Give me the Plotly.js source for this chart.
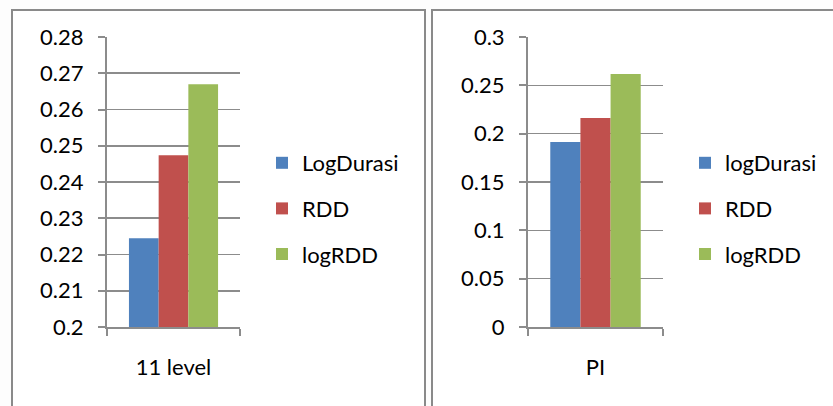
<!DOCTYPE html>
<html>
<head>
<meta charset="utf-8">
<script src="https://cdn.plot.ly/plotly-3.0.1.min.js"></script>
<style>html,body{margin:0;padding:0;background:#fff;}#chart{width:833px;height:406px;}</style>
</head>
<body>
<div id="chart"></div>
<script>
// ---- data ----
const leftCategories = ["11 level"];
const rightCategories = ["PI"];
const leftSeriesNames = ["LogDurasi", "RDD", "logRDD"];
const rightSeriesNames = ["logDurasi", "RDD", "logRDD"];
const leftValues = [0.2245, 0.2474, 0.2670];
const rightValues = [0.1915, 0.2162, 0.2617];
const leftTickVals = [0.2, 0.21, 0.22, 0.23, 0.24, 0.25, 0.26, 0.27, 0.28];
const leftTickText = ["0.2", "0.21", "0.22", "0.23", "0.24", "0.25", "0.26", "0.27", "0.28"];
const rightTickVals = [0, 0.05, 0.1, 0.15, 0.2, 0.25, 0.3];
const rightTickText = ["0", "0.05", "0.1", "0.15", "0.2", "0.25", "0.3"];
const seriesColors = ["#4F81BD", "#C0504D", "#9BBB59"];

const W = 833, H = 406;
const px = v => v / W;
const py = v => 1 - v / H;

const traces = [];
leftSeriesNames.forEach((n, i) => {
  traces.push({type: "bar", name: n, x: leftCategories, y: [leftValues[i]],
    marker: {color: seriesColors[i]}, xaxis: "x", yaxis: "y",
    legend: "legend", legendgroup: "L" + i, hoverinfo: "skip"});
});
rightSeriesNames.forEach((n, i) => {
  traces.push({type: "bar", name: n, x: rightCategories, y: [rightValues[i]],
    marker: {color: seriesColors[i]}, xaxis: "x2", yaxis: "y2",
    legend: "legend2", legendgroup: "R" + i, hoverinfo: "skip"});
});

const fontFam = "Lato, 'Open Sans', sans-serif";
const gridCol = "#8c8c8c";
const axisCommon = {
  showline: true, linecolor: gridCol, linewidth: 2,
  gridcolor: gridCol, gridwidth: 1.6,
  ticks: "outside", ticklen: 7, tickcolor: gridCol, tickwidth: 2,
  tickfont: {family: fontFam, size: 22, color: "#000"},
  zeroline: false, fixedrange: true
};

const legendCommon = {
  font: {family: fontFam, size: 22, color: "#000"},
  bgcolor: "rgba(0,0,0,0)", borderwidth: 0,
  traceorder: "grouped", tracegroupgap: 14,
  xanchor: "left", yanchor: "middle", y: py(208.5)
};

const layout = {
  width: W, height: H,
  margin: {l: 0, r: 0, t: 0, b: 0},
  paper_bgcolor: "#fdfdfd", plot_bgcolor: "rgba(0,0,0,0)",
  barmode: "group", bargap: 0.33, bargroupgap: 0,
  showlegend: true,
  font: {family: fontFam, size: 22, color: "#000"},
  xaxis: Object.assign({}, axisCommon, {domain: [px(107), px(240)], type: "category",
    tickson: "boundaries", showgrid: false, ticklabelstandoff: 20, anchor: "y"}),
  yaxis: Object.assign({}, axisCommon, {domain: [py(327), py(37)], range: [0.2, 0.28],
    tickvals: leftTickVals, ticktext: leftTickText, showgrid: true, ticklabelstandoff: 10, anchor: "x"}),
  xaxis2: Object.assign({}, axisCommon, {domain: [px(528), px(663)], type: "category",
    tickson: "boundaries", showgrid: false, ticklabelstandoff: 20, anchor: "y2"}),
  yaxis2: Object.assign({}, axisCommon, {domain: [py(327), py(37)], range: [0, 0.3],
    tickvals: rightTickVals, ticktext: rightTickText, showgrid: true, ticklabelstandoff: 10, anchor: "x2"}),
  legend: Object.assign({}, legendCommon, {x: px(262)}),
  legend2: Object.assign({}, legendCommon, {x: px(685)}),
  shapes: [
    {type: "rect", xref: "paper", yref: "paper", x0: px(12), x1: px(425), y0: py(420), y1: py(10),
      line: {color: "#8a8a8a", width: 2}, fillcolor: "#ffffff", layer: "below"},
    {type: "rect", xref: "paper", yref: "paper", x0: px(432), x1: px(845), y0: py(420), y1: py(10),
      line: {color: "#8a8a8a", width: 2}, fillcolor: "#ffffff", layer: "below"}
  ]
};

Plotly.newPlot("chart", traces, layout, {displayModeBar: false, staticPlot: true});
</script>
</body>
</html>
